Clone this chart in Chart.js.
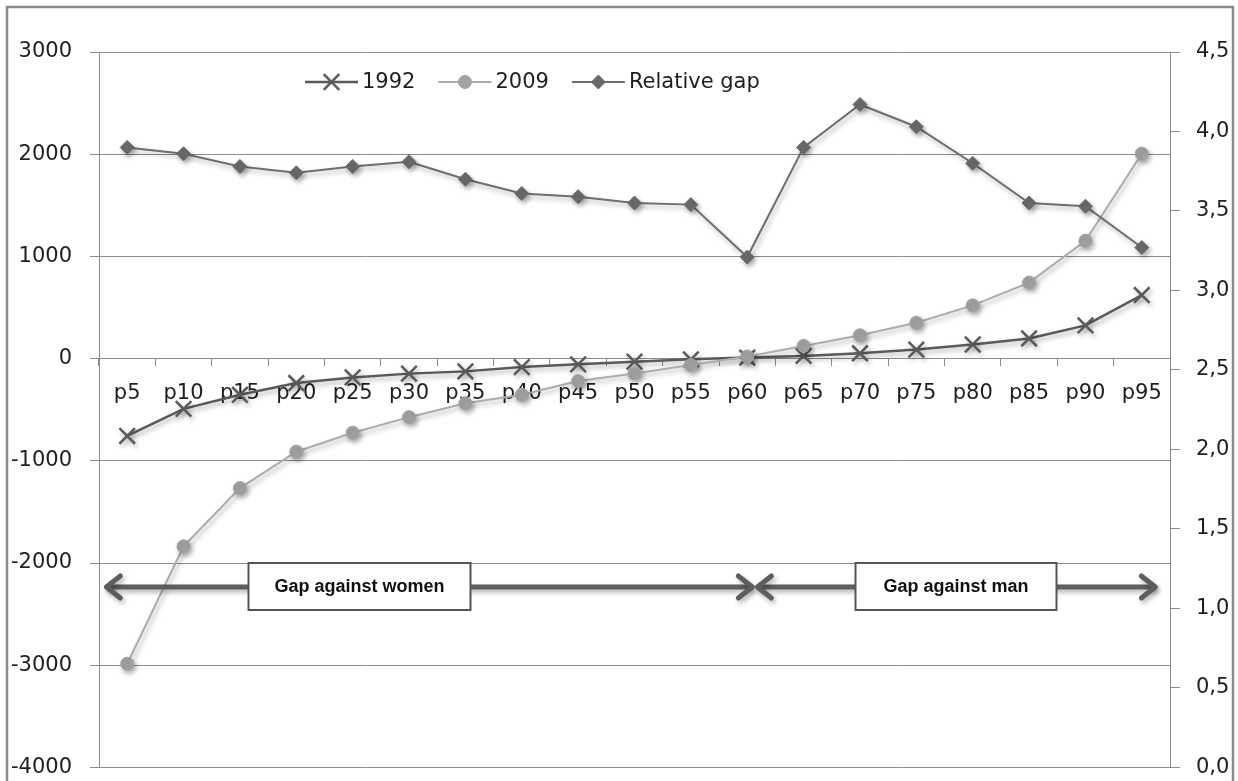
<!DOCTYPE html>
<html>
<head>
<meta charset="utf-8">
<script src="https://cdn.jsdelivr.net/npm/chart.js@4.4.1/dist/chart.umd.min.js"></script>
<style>
    html, body { margin: 0; padding: 0; background: #fff; overflow: hidden; }
    #wrap { width: 1238px; height: 781px; overflow: hidden; }
</style>
</head>
<body>
<div id="wrap"><canvas id="gap-chart" width="1238" height="798"></canvas></div>
<script>
// 数据
const categories = ['p5', 'p10', 'p15', 'p20', 'p25', 'p30', 'p35', 'p40', 'p45', 'p50',
                    'p55', 'p60', 'p65', 'p70', 'p75', 'p80', 'p85', 'p90', 'p95'];
const values1992 = [-757, -492, -354, -239, -184, -147, -125, -83, -56, -30,
                    -7, 10, 26, 52, 88, 138, 197, 325, 622];
const values2009 = [-2986, -1837, -1267, -911, -725, -573, -436, -353, -220, -145,
                    -63, 20, 124, 228, 351, 521, 744, 1153, 2005];
const relativeGap = [3.90, 3.86, 3.78, 3.74, 3.78, 3.81, 3.70, 3.61, 3.59, 3.55,
                     3.54, 3.21, 3.90, 4.17, 4.03, 3.80, 3.55, 3.53, 3.27];
const seriesNames = ['1992', '2009', 'Relative gap'];

// annotation arrows (category index units, left axis value)
const arrowLevel = -2230;
const arrows = [
    { from: -0.37, to: 11.09, label: 'Gap against women', boxFrom: 2.15, boxTo: 6.09 },
    { from: 11.18, to: 18.24, label: 'Gap against man', boxFrom: 12.91, boxTo: 16.48 }
];

const FONT = 'DejaVu Sans';
const GRID = '#8c8c8c';
const TEXT = '#1e1e1e';

// 标记阴影
const shadowPlugin = {
    id: 'shadow',
    beforeDatasetsDraw(chart) {
        const ctx = chart.ctx;
        ctx.save();
        ctx.shadowColor = 'rgba(0,0,0,0.32)';
        ctx.shadowBlur = 5;
        ctx.shadowOffsetX = 2;
        ctx.shadowOffsetY = 3;
    },
    afterDatasetsDraw(chart) {
        chart.ctx.restore();
    }
};

function drawHead(ctx, x, y, dir) {
    ctx.beginPath();
    ctx.moveTo(x - dir * 14, y - 11);
    ctx.lineTo(x, y);
    ctx.lineTo(x - dir * 14, y + 11);
    ctx.stroke();
}

// 箭头和文本框
const arrowPlugin = {
    id: 'arrows',
    afterDatasetsDraw(chart) {
        const ctx = chart.ctx;
        const xs = chart.scales.x;
        const y = Math.round(chart.scales.y.getPixelForValue(arrowLevel));
        ctx.save();
        ctx.shadowColor = 'rgba(0,0,0,0.3)';
        ctx.shadowBlur = 5;
        ctx.shadowOffsetX = 2;
        ctx.shadowOffsetY = 3;
        ctx.strokeStyle = '#5d5d5d';
        ctx.lineWidth = 5;
        ctx.lineCap = 'round';
        ctx.lineJoin = 'round';
        arrows.forEach(a => {
            const x1 = xs.getPixelForValue(a.from);
            const x2 = xs.getPixelForValue(a.to);
            ctx.beginPath();
            ctx.moveTo(x1 + 2, y);
            ctx.lineTo(x2 - 2, y);
            ctx.stroke();
            drawHead(ctx, x1, y, -1);
            drawHead(ctx, x2, y, 1);
        });
        ctx.restore();

        ctx.save();
        arrows.forEach(a => {
            const b1 = Math.round(xs.getPixelForValue(a.boxFrom)) + 0.5;
            const b2 = Math.round(xs.getPixelForValue(a.boxTo)) + 0.5;
            ctx.fillStyle = '#ffffff';
            ctx.fillRect(b1, y - 24, b2 - b1, 47);
            ctx.strokeStyle = '#555555';
            ctx.lineWidth = 2;
            ctx.strokeRect(b1, y - 24, b2 - b1, 47);
            ctx.fillStyle = '#111111';
            ctx.font = 'bold 18px "Liberation Sans", sans-serif';
            ctx.textAlign = 'center';
            ctx.textBaseline = 'middle';
            ctx.fillText(a.label, (b1 + b2) / 2, y);
        });
        ctx.restore();
    }
};

// 图例和外框
const legendPlugin = {
    id: 'customLegend',
    afterDraw(chart) {
        const ctx = chart.ctx;
        const y = 82;
        let x = 305;
        ctx.save();
        ctx.font = '21px "' + FONT + '"';
        ctx.textBaseline = 'middle';
        ctx.textAlign = 'left';
        chart.data.datasets.forEach(ds => {
            ctx.strokeStyle = ds.borderColor;
            ctx.lineWidth = ds.borderWidth;
            ctx.beginPath();
            ctx.moveTo(x, y);
            ctx.lineTo(x + 53, y);
            ctx.stroke();
            ctx.fillStyle = ds.pointBackgroundColor;
            ctx.strokeStyle = ds.pointBorderColor;
            ctx.lineWidth = ds.pointBorderWidth;
            Chart.helpers.drawPoint(ctx, {
                pointStyle: ds.pointStyle,
                radius: ds.pointRadius,
                rotation: 0,
                borderWidth: ds.pointBorderWidth
            }, x + 26.5, y);
            ctx.fillStyle = TEXT;
            ctx.fillText(ds.label, x + 57, y + 1);
            x += 57 + ctx.measureText(ds.label).width + 23;
        });
        ctx.restore();

        ctx.save();
        ctx.strokeStyle = '#8a8a8a';
        ctx.lineWidth = 2.5;
        ctx.strokeRect(7, 7, 1226, 800);
        ctx.restore();
    }
};

function init() {
    const ctx = document.getElementById('gap-chart').getContext('2d');
    new Chart(ctx, {
        type: 'line',
        data: {
            labels: categories,
            datasets: [
                {
                    label: seriesNames[0],
                    data: values1992,
                    yAxisID: 'y',
                    borderColor: '#5a5a5a',
                    borderWidth: 2.5,
                    pointStyle: 'crossRot',
                    pointRadius: 11,
                    pointBorderWidth: 2.5,
                    pointBackgroundColor: '#5a5a5a',
                    pointBorderColor: '#5a5a5a',
                    order: 3
                },
                {
                    label: seriesNames[1],
                    data: values2009,
                    yAxisID: 'y',
                    borderColor: '#acacac',
                    borderWidth: 2,
                    pointStyle: 'circle',
                    pointRadius: 6.5,
                    pointBorderWidth: 1,
                    pointBackgroundColor: '#a2a2a2',
                    pointBorderColor: '#a2a2a2',
                    order: 2
                },
                {
                    label: seriesNames[2],
                    data: relativeGap,
                    yAxisID: 'y1',
                    borderColor: '#6e6e6e',
                    borderWidth: 2,
                    pointStyle: 'rectRot',
                    pointRadius: 7,
                    pointBorderWidth: 1,
                    pointBackgroundColor: '#6a6a6a',
                    pointBorderColor: '#6a6a6a',
                    order: 1
                }
            ]
        },
        options: {
            responsive: false,
            animation: false,
            events: [],
            layout: { padding: { top: 52, bottom: 14, left: 0, right: 0 } },
            elements: { line: { tension: 0 } },
            plugins: {
                legend: { display: false },
                tooltip: { enabled: false }
            },
            scales: {
                x: {
                    position: { y: 0 },
                    offset: true,
                    grid: {
                        offset: true,
                        drawOnChartArea: false,
                        drawTicks: true,
                        tickLength: 7,
                        color: GRID
                    },
                    border: { display: true, color: GRID, width: 1 },
                    ticks: {
                        padding: 15,
                        color: TEXT,
                        maxRotation: 0,
                        autoSkip: false,
                        font: { family: FONT, size: 21 }
                    }
                },
                y: {
                    position: 'left',
                    min: -4000,
                    max: 3000,
                    afterFit(scale) { scale.width = 99; },
                    grid: { color: GRID, tickLength: 9 },
                    border: { color: GRID },
                    ticks: {
                        stepSize: 1000,
                        padding: 18,
                        color: TEXT,
                        font: { family: FONT, size: 21 },
                        callback: v => String(v)
                    }
                },
                y1: {
                    position: 'right',
                    min: 0,
                    max: 4.5,
                    afterFit(scale) { scale.width = 68; },
                    grid: { drawOnChartArea: false, color: GRID, tickLength: 10 },
                    border: { color: GRID },
                    ticks: {
                        stepSize: 0.5,
                        padding: 16,
                        color: TEXT,
                        font: { family: FONT, size: 21 },
                        callback: v => v.toFixed(1).replace('.', ',')
                    }
                }
            }
        },
        plugins: [shadowPlugin, arrowPlugin, legendPlugin]
    });
}

document.addEventListener('DOMContentLoaded', init);
</script>
</body>
</html>
